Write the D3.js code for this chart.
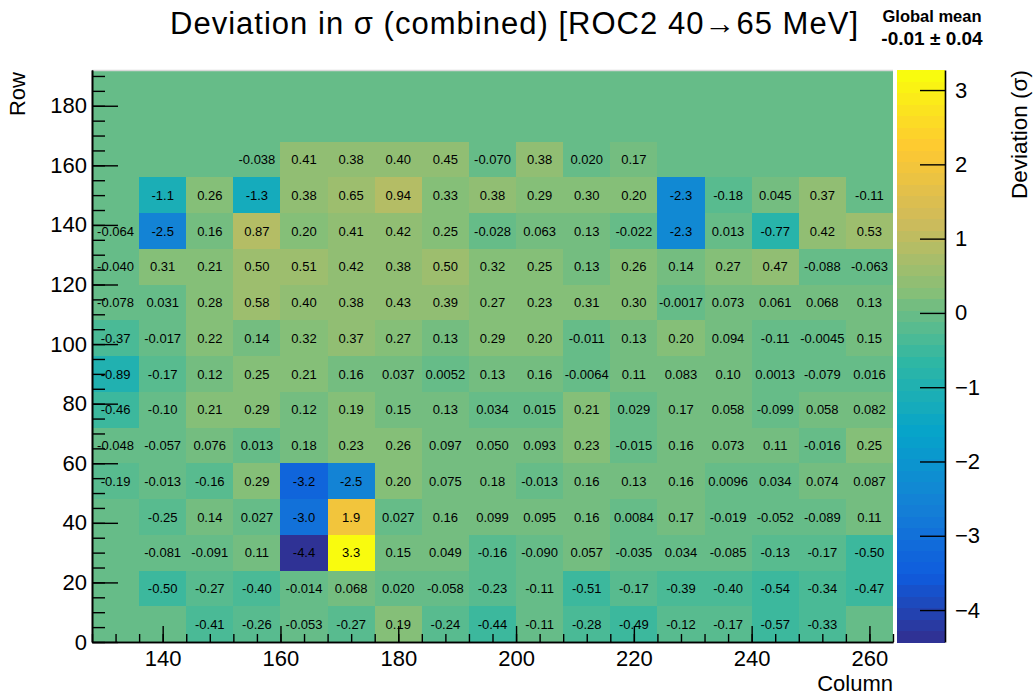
<!DOCTYPE html>
<html><head><meta charset="utf-8">
<script src="https://cdn.jsdelivr.net/npm/d3@7"></script>
<style>
body{margin:0;background:#fff;}
svg{display:block;font-family:"Liberation Sans",Arial,Helvetica,sans-serif;}
</style>
</head><body>
<svg id="chart" width="1035" height="698"></svg>
<script>
// ---- data (bin low edges in data units, values per row from bottom) ----
const columnLowEdges = [128,136,144,152,160,168,176,184,192,200,208,216,224,232,240,248,256];
const rowLowEdges = [0,12,24,36,48,60,72,84,96,108,120,132,144,156];
const columnBinWidth = 8;
const rowBinHeight = 12;

const row0  = [null,null,-0.41,-0.26,-0.053,-0.27,0.19,-0.24,-0.44,-0.11,-0.28,-0.49,-0.12,-0.17,-0.57,-0.33,null];
const row1  = [null,-0.50,-0.27,-0.40,-0.014,0.068,0.020,-0.058,-0.23,-0.11,-0.51,-0.17,-0.39,-0.40,-0.54,-0.34,-0.47];
const row2  = [null,-0.081,-0.091,0.11,-4.43,3.27,0.15,0.049,-0.16,-0.090,0.057,-0.035,0.034,-0.085,-0.13,-0.17,-0.50];
const row3  = [null,-0.25,0.14,0.027,-3.0,1.9,0.027,0.16,0.099,0.095,0.16,0.0084,0.17,-0.019,-0.052,-0.089,0.11];
const row4  = [-0.19,-0.013,-0.16,0.29,-3.2,-2.5,0.20,0.075,0.18,-0.013,0.16,0.13,0.16,0.0096,0.034,0.074,0.087];
const row5  = [-0.048,-0.057,0.076,0.013,0.18,0.23,0.26,0.097,0.050,0.093,0.23,-0.015,0.16,0.073,0.11,-0.016,0.25];
const row6  = [-0.46,-0.10,0.21,0.29,0.12,0.19,0.15,0.13,0.034,0.015,0.21,0.029,0.17,0.058,-0.099,0.058,0.082];
const row7  = [-0.89,-0.17,0.12,0.25,0.21,0.16,0.037,0.0052,0.13,0.16,-0.0064,0.11,0.083,0.10,0.0013,-0.079,0.016];
const row8  = [-0.37,-0.017,0.22,0.14,0.32,0.37,0.27,0.13,0.29,0.20,-0.011,0.13,0.20,0.094,-0.11,-0.0045,0.15];
const row9  = [-0.078,0.031,0.28,0.58,0.40,0.38,0.43,0.39,0.27,0.23,0.31,0.30,-0.0017,0.073,0.061,0.068,0.13];
const row10 = [-0.040,0.31,0.21,0.50,0.51,0.42,0.38,0.50,0.32,0.25,0.13,0.26,0.14,0.27,0.47,-0.088,-0.063];
const row11 = [-0.064,-2.5,0.16,0.87,0.20,0.41,0.42,0.25,-0.028,0.063,0.13,-0.022,-2.3,0.013,-0.77,0.42,0.53];
const row12 = [null,-1.1,0.26,-1.3,0.38,0.65,0.94,0.33,0.38,0.29,0.30,0.20,-2.3,-0.18,0.045,0.37,-0.11];
const row13 = [null,null,null,-0.038,0.41,0.38,0.40,0.45,-0.070,0.38,0.020,0.17,null,null,null,null,null];
const rowValues = [row0,row1,row2,row3,row4,row5,row6,row7,row8,row9,row10,row11,row12,row13];

const xTickMajor = [140,160,180,200,220,240,260];
const yTickMajor = [0,20,40,60,80,100,120,140,160,180];
const zTickMajor = [-4,-3,-2,-1,0,1,2,3];

const titleText = "Deviation in \u03C3 (combined) [ROC2 40\u219265 MeV]";
const meanLabel = "Global mean";
const meanValue = "-0.01 \u00B1 0.04";
const xTitle = "Column", yTitle = "Row", zTitle = "Deviation (\u03C3)";

// kBird palette stops (ROOT)
const birdStops = [0,0.125,0.25,0.375,0.5,0.625,0.75,0.875,1];
const birdR = [0.2082,0.0592,0.0780,0.0232,0.1802,0.5301,0.8186,0.9956,0.9764];
const birdG = [0.1664,0.3599,0.5041,0.6419,0.7178,0.7492,0.7328,0.7862,0.9832];
const birdB = [0.5293,0.8684,0.8385,0.7914,0.6425,0.4662,0.3499,0.1968,0.0539];
const nContours = 50, nPaletteColors = 255;

// ---- layout ----
const plot = {left: 92, right: 893, top: 70, bottom: 642};
const bar = {left: 897, right: 945};
const FONT = "'Liberation Sans', Arial, Helvetica, sans-serif";

const svg = d3.select("#chart");

const x = d3.scaleLinear().domain([128, 264]).range([plot.left, plot.right]);
const y = d3.scaleLinear().domain([0, 192]).range([plot.bottom, plot.top]);

const allVals = rowValues.flat().filter(v => v !== null);
const zMin = d3.min(allVals), zMax = d3.max(allVals);
const zScale = d3.scaleLinear().domain([zMin, zMax]).range([plot.bottom, plot.top]);

const bird = d3.scaleLinear().domain(birdStops)
  .range(birdStops.map((s,i) => d3.rgb(birdR[i]*255, birdG[i]*255, birdB[i]*255)))
  .interpolate(d3.interpolateRgb);

function levelColor(lvl) {
  lvl = Math.max(0, Math.min(nContours - 1, lvl));
  const idx = Math.min(nPaletteColors - 1, Math.floor((lvl + 0.99) * nPaletteColors / nContours));
  return bird(idx / (nPaletteColors - 1));
}
function colorOf(v) {
  return levelColor(Math.floor((v - zMin) / (zMax - zMin) * nContours));
}

// plot background (zero colour)
svg.append("rect").attr("x", plot.left).attr("y", plot.top)
  .attr("width", plot.right - plot.left).attr("height", plot.bottom - plot.top)
  .attr("fill", colorOf(0));

// cells
const cells = [];
rowValues.forEach((row, ri) => row.forEach((v, ci) => {
  if (v !== null) cells.push({x0: columnLowEdges[ci], y0: rowLowEdges[ri], v});
}));

const gCells = svg.append("g");
gCells.selectAll("rect").data(cells).join("rect")
  .attr("x", d => x(d.x0))
  .attr("y", d => y(d.y0 + rowBinHeight))
  .attr("width", d => x(d.x0 + columnBinWidth) - x(d.x0))
  .attr("height", d => y(d.y0) - y(d.y0 + rowBinHeight))
  .attr("fill", d => colorOf(d.v))
  .attr("shape-rendering", "crispEdges");

// top frame line
svg.append("line").attr("x1", plot.left).attr("x2", plot.right)
  .attr("y1", plot.top + 0.5).attr("y2", plot.top + 0.5)
  .attr("stroke", "#d8d8d8").attr("stroke-width", 1.5);

// cell labels
gCells.selectAll("text").data(cells).join("text")
  .attr("x", d => x(d.x0 + columnBinWidth / 2))
  .attr("y", d => y(d.y0 + rowBinHeight / 2))
  .attr("dy", "0.36em")
  .attr("text-anchor", "middle")
  .attr("font-size", 13)
  .attr("fill", "#000")
  .text(d => d.v.toPrecision(2));

// axes
function styleAxis(g, fs) {
  g.selectAll("path.domain").attr("stroke", "#000").attr("stroke-width", 1.6);
  g.selectAll(".tick line").attr("stroke", "#000").attr("stroke-width", 1.4);
  g.selectAll(".tick text").attr("font-size", fs).attr("font-family", FONT).attr("fill", "#000");
  g.attr("font-family", null).attr("font-size", null);
}

const gxMinor = svg.append("g").attr("transform", `translate(0,${plot.bottom})`)
  .call(d3.axisBottom(x).tickValues(d3.range(128, 265, 4)).tickSizeInner(-8).tickSizeOuter(0).tickFormat(""));
styleAxis(gxMinor, 22);
const gx = svg.append("g").attr("transform", `translate(0,${plot.bottom})`)
  .call(d3.axisBottom(x).tickValues(xTickMajor).tickSizeInner(-16).tickSizeOuter(0).tickPadding(8));
styleAxis(gx, 22);

const gyMinor = svg.append("g").attr("transform", `translate(${plot.left},0)`)
  .call(d3.axisLeft(y).tickValues(d3.range(0, 191, 5)).tickSizeInner(-13).tickSizeOuter(0).tickFormat(""));
styleAxis(gyMinor, 22);
const gy = svg.append("g").attr("transform", `translate(${plot.left},0)`)
  .call(d3.axisLeft(y).tickValues(yTickMajor).tickSizeInner(-26).tickSizeOuter(0).tickPadding(5));
styleAxis(gy, 22);

// colour bar
const bandEdges = d3.range(nContours + 1).map(i => zMin + (zMax - zMin) * i / nContours);
svg.append("g").selectAll("rect").data(d3.range(nContours)).join("rect")
  .attr("x", bar.left)
  .attr("y", i => zScale(bandEdges[i + 1]))
  .attr("width", bar.right - bar.left)
  .attr("height", i => zScale(bandEdges[i]) - zScale(bandEdges[i + 1]) + 0.5)
  .attr("fill", i => levelColor(i))
  .attr("shape-rendering", "crispEdges");

const gz = svg.append("g").attr("transform", `translate(${bar.right},0)`)
  .call(d3.axisRight(zScale).tickValues(zTickMajor).tickSizeInner(-25).tickSizeOuter(0).tickPadding(10)
    .tickFormat(d => d < 0 ? "\u2212" + (-d) : String(d)));
styleAxis(gz, 22);

// titles
svg.append("text").attr("x", 170).attr("y", 34).attr("text-anchor", "start")
  .attr("font-size", 31).attr("fill", "#000")
  .attr("textLength", 688).attr("lengthAdjust", "spacing").text(titleText);

svg.append("text").attr("x", 932).attr("y", 22).attr("text-anchor", "middle")
  .attr("font-size", 16.5).attr("font-weight", "bold").attr("fill", "#000").text(meanLabel);
svg.append("text").attr("x", 932).attr("y", 45).attr("text-anchor", "middle")
  .attr("font-size", 19).attr("font-weight", "bold").attr("fill", "#000").text(meanValue);

svg.append("text").attr("x", plot.right).attr("y", 691).attr("text-anchor", "end")
  .attr("font-size", 22).attr("fill", "#000").text(xTitle);

svg.append("text").attr("transform", `translate(25,${plot.top + 2}) rotate(-90)`)
  .attr("text-anchor", "end").attr("font-size", 22).attr("fill", "#000").text(yTitle);

svg.append("text").attr("transform", `translate(1027,${plot.top}) rotate(-90)`)
  .attr("text-anchor", "end").attr("font-size", 22.5).attr("fill", "#000").text(zTitle);
</script>
</body></html>
